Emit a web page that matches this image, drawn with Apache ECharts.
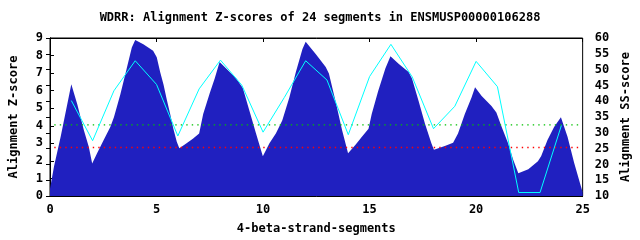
<!DOCTYPE html>
<html>
<head>
<meta charset="utf-8">
<script src="https://cdn.jsdelivr.net/npm/echarts@6/dist/echarts.min.js"></script>
<style>html,body{margin:0;padding:0;background:#fff;}#c{width:640px;height:240px;}</style>
</head>
<body>
<div id="c"></div>
<script>
// Z-score profile (filled area), positions along segments
var profileX = [0, 0.19, 0.5, 0.81, 1.0, 1.28, 1.59, 1.82, 1.98, 2.21, 2.52, 2.83, 3.0, 3.3, 3.6, 3.84, 4.0, 4.38, 4.84,
  5.01, 5.17, 5.33, 5.48, 5.64, 5.79, 5.95, 6.07, 6.41, 6.72, 7.0, 7.19, 7.5, 7.73, 7.96, 8.27, 8.74, 9.05, 9.36, 9.67,
  9.99, 10.3, 10.6, 10.9, 11.23, 11.54, 11.85, 12.0, 12.47, 12.94, 13.09, 13.4, 13.71, 13.99, 14.33, 14.64, 14.95,
  15.1, 15.4, 15.74, 15.98, 16.36, 16.83, 16.99, 17.3, 17.6, 17.9, 18.02, 18.53, 18.92, 19.15, 19.47, 19.78, 19.95,
  20.26, 20.72, 20.95, 21.2, 21.5, 21.74, 21.98, 22.45, 22.9, 23.05, 23.35, 23.66, 23.98, 24.29, 24.6, 24.91, 25];
var profileZ = [0.41, 1.70, 3.37, 5.22, 6.37, 5.22, 3.74, 2.81, 1.85, 2.44, 3.19, 3.93, 4.48, 5.78, 7.26, 8.46, 8.89, 8.65, 8.28,
  7.91, 7.07, 6.33, 5.5, 4.67, 3.83, 3.09, 2.72, 3.0, 3.28, 3.56, 4.67, 5.87, 6.7, 7.63, 7.26, 6.7, 6.15, 4.85, 3.56,
  2.26, 3.0, 3.56, 4.3, 5.59, 7.07, 8.37, 8.78, 8.09, 7.35, 6.98, 5.41, 3.74, 2.44, 2.91, 3.37, 3.83,
  4.67, 5.96, 7.26, 7.96, 7.54, 7.07, 6.7, 5.41, 4.11, 3.0, 2.63, 2.85, 3.04, 3.56, 4.67, 5.59, 6.19,
  5.69, 5.13, 4.76, 3.93, 3.0, 2.07, 1.3, 1.52, 1.98, 2.26, 3.19, 3.93, 4.48, 3.37, 1.89, 0.59, 0.22];
// SS-score per segment (right axis)
var segments = [1, 2, 3, 4, 5, 6, 7, 8, 9, 10, 11, 12, 13, 14, 15, 16, 17, 18, 19, 20, 21, 22, 23, 24];
var ssScore = [40.2, 27.5, 43.3, 52.8, 45.3, 29.0, 43.9, 53.0, 45.1, 30.2, 41.2, 52.8, 46.7, 29.4, 47.8, 58.0, 47.7, 31.3, 38.4, 52.6, 44.6, 11.1, 11.1, 32.3];
// Reference levels (Z-score)
var levelX = [0.2, 24.8];
var greenLevel = 4.05;
var redLevel = 2.76;

var titleText = 'WDRR: Alignment Z-scores of 24 segments in ENSMUSP00000106288';
var xName = '4-beta-strand-segments';
var yLeftName = 'Alignment Z-score';
var yRightName = 'Alignment SS-score';

function zip(a, b) { return a.map(function (v, i) { return [v, b[i]]; }); }

var font = 'DejaVu Sans Mono';
var lbl = { color: '#000', fontFamily: font, fontSize: 12, fontWeight: 'bold' };

var chart = echarts.init(document.getElementById('c'), null, { renderer: 'canvas' });
chart.setOption({
  animation: false,
  backgroundColor: '#fff',
  title: {
    text: titleText, left: 'center', top: 7,
    textStyle: { color: '#000', fontFamily: font, fontSize: 12, fontWeight: 'bold' }
  },
  grid: { left: 47.5, right: 55, top: 38, bottom: 40, show: true, borderColor: '#000', borderWidth: 1, backgroundColor: 'transparent' },
  xAxis: [{
    type: 'value', min: 0, max: 25, interval: 5, position: 'bottom',
    name: xName, nameLocation: 'middle', nameGap: 27,
    nameTextStyle: lbl,
    axisLine: { show: true, lineStyle: { color: '#000' } },
    axisTick: { show: true, inside: true, length: 4, lineStyle: { color: '#000' } },
    axisLabel: Object.assign({ margin: 8 }, lbl),
    splitLine: { show: false }
  }, {
    type: 'value', min: 0, max: 25, interval: 5, position: 'top',
    axisLine: { show: true, lineStyle: { color: '#000' } },
    axisTick: { show: true, inside: true, length: 4, lineStyle: { color: '#000' } },
    axisLabel: { show: false },
    splitLine: { show: false }
  }],
  yAxis: [{
    type: 'value', min: 0, max: 9, interval: 1, position: 'left',
    name: yLeftName, nameLocation: 'middle', nameGap: 30, nameRotate: 90,
    nameTextStyle: lbl,
    axisLine: { show: true, lineStyle: { color: '#000' } },
    axisTick: { show: true, inside: true, length: 4, lineStyle: { color: '#000' } },
    axisLabel: Object.assign({ margin: 7 }, lbl),
    splitLine: { show: false }
  }, {
    type: 'value', min: 10, max: 60, interval: 5, position: 'right',
    name: yRightName, nameLocation: 'middle', nameGap: 36, nameRotate: 90,
    nameTextStyle: lbl,
    axisLine: { show: true, lineStyle: { color: '#000' } },
    axisTick: { show: true, inside: true, length: 4, lineStyle: { color: '#000' } },
    axisLabel: Object.assign({ margin: 12 }, lbl),
    splitLine: { show: false }
  }],
  series: [{
    type: 'line', xAxisIndex: 0, yAxisIndex: 0,
    data: zip(profileX, profileZ),
    showSymbol: false, symbol: 'none',
    lineStyle: { width: 0 },
    areaStyle: { color: '#2020c0', opacity: 1 },
    z: 2
  }, {
    type: 'line', xAxisIndex: 0, yAxisIndex: 0,
    data: zip(levelX, [greenLevel, greenLevel]),
    symbol: 'none',
    lineStyle: { color: '#00c000', width: 1.4, type: [1.4, 4.1] },
    z: 3
  }, {
    type: 'line', xAxisIndex: 0, yAxisIndex: 0,
    data: zip(levelX, [redLevel, redLevel]),
    symbol: 'none',
    lineStyle: { color: '#ff0000', width: 1.4, type: [1.4, 4.1] },
    z: 3
  }, {
    type: 'line', xAxisIndex: 0, yAxisIndex: 1,
    data: zip(segments, ssScore),
    symbol: 'none',
    lineStyle: { color: '#00ffff', width: 1 },
    z: 4
  }]
});
</script>
</body>
</html>
